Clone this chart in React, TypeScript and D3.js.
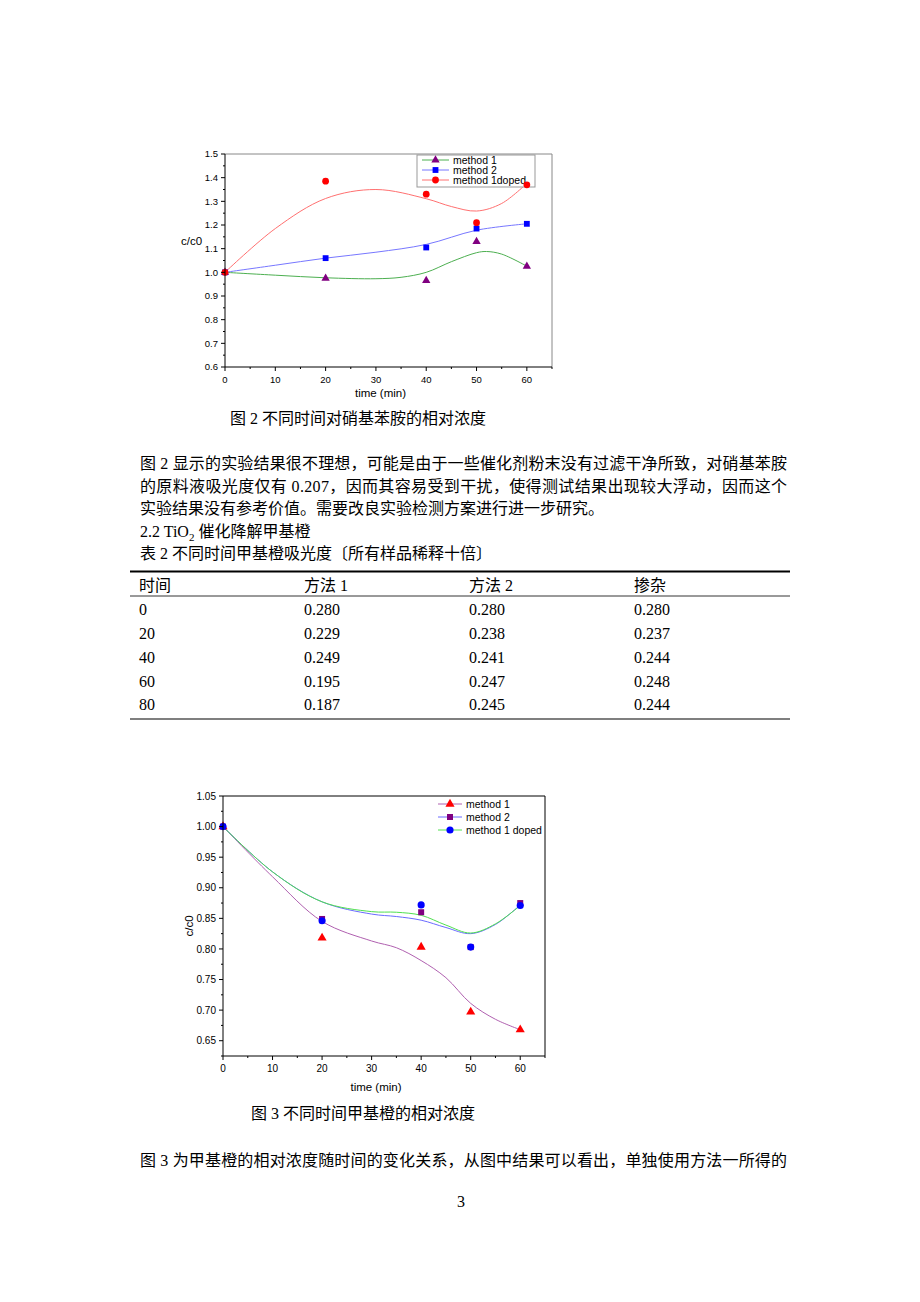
import React from "react";
import * as d3 from "d3";

// ---------- Chart 1 data (对硝基苯胺) ----------
const c1Times = [0, 20, 40, 50, 60];
const c1Method1 = [1.0, 0.975, 0.965, 1.13, 1.025];
const c1Method2 = [1.0, 1.06, 1.105, 1.185, 1.205];
const c1Doped = [1.0, 1.385, 1.33, 1.21, 1.37];
// fitted curves: [time, value]
const c1FitMethod1: [number, number][] = [[0, 1.0], [10, 0.988], [20, 0.977], [30, 0.973], [35, 0.979], [40, 1.0], [45, 1.045], [50, 1.083], [52, 1.088], [55, 1.077], [60, 1.026]];
const c1FitMethod2: [number, number][] = [[0, 1.0], [10, 1.03], [20, 1.06], [30, 1.085], [40, 1.118], [50, 1.178], [60, 1.205]];
const c1FitDoped: [number, number][] = [[0, 1.0], [10, 1.185], [20, 1.312], [30, 1.35], [40, 1.311], [45, 1.278], [50, 1.259], [55, 1.291], [60, 1.376]];
const c1YTicks = [0.6, 0.7, 0.8, 0.9, 1.0, 1.1, 1.2, 1.3, 1.4, 1.5];
const c1XTicks = [0, 10, 20, 30, 40, 50, 60];

// ---------- Chart 2 data (甲基橙) ----------
const c2Times = [0, 20, 40, 50, 60];
const c2Method1 = [1.0, 0.818, 0.803, 0.697, 0.668];
const c2Method2 = [1.0, 0.849, 0.86, 0.803, 0.875];
const c2Doped = [1.0, 0.846, 0.872, 0.803, 0.871];
const c2FitMethod1: [number, number][] = [[0, 1.0], [10, 0.918], [20, 0.845], [30, 0.813], [35, 0.802], [40, 0.781], [45, 0.753], [50, 0.711], [55, 0.685], [60, 0.668]];
const c2FitMethod2: [number, number][] = [[0, 1.0], [10, 0.926], [20, 0.877], [30, 0.857], [35, 0.853], [40, 0.847], [45, 0.835], [50, 0.825], [55, 0.84], [60, 0.872]];
const c2FitDoped: [number, number][] = [[0, 1.0], [10, 0.926], [20, 0.877], [30, 0.861], [35, 0.86], [40, 0.855], [45, 0.839], [50, 0.826], [55, 0.841], [60, 0.871]];
const c2YTicks = [0.65, 0.7, 0.75, 0.8, 0.85, 0.9, 0.95, 1.0, 1.05];
const c2XTicks = [0, 10, 20, 30, 40, 50, 60];

// ---------- Table 2 ----------
const tableHeader = ["时间", "方法 1", "方法 2", "掺杂"];
const tableTime = ["0", "20", "40", "60", "80"];
const tableMethod1 = ["0.280", "0.229", "0.249", "0.195", "0.187"];
const tableMethod2 = ["0.280", "0.238", "0.241", "0.247", "0.245"];
const tableDoped = ["0.280", "0.237", "0.244", "0.248", "0.244"];

const SERIF = "'Liberation Serif', 'Times New Roman', 'Noto Sans CJK SC', serif";
const SANS = "'Liberation Sans', Arial, sans-serif";

type Series = {
  name: string;
  values: number[];
  fit: [number, number][];
  lineColor: string;
  markColor: string;
  symbol: d3.SymbolType;
  size: number;
};

type ChartProps = {
  left: number; right: number; top: number; bottom: number;
  yDomain: [number, number];
  yTicks: number[];
  yMinorStep: number;
  xTicks: number[];
  times: number[];
  series: Series[];
  yFmt: (v: number) => string;
  frameColor: string;
  legendBox: boolean;
  legend: { x: number; y: number; dy: number; lineW: number };
  yTitle: "horizontal" | "vertical";
  yTitlePos: [number, number];
  xTitleY: number;
  tickFont: number;
};

function Chart(p: ChartProps) {
  const x = d3.scaleLinear().domain([0, 65]).range([p.left, p.right]);
  const y = d3.scaleLinear().domain(p.yDomain).range([p.bottom, p.top]);
  const line = d3.line<[number, number]>().x(d => x(d[0])).y(d => y(d[1])).curve(d3.curveCatmullRom.alpha(0.5));
  const xMinor = d3.range(0, 66, 5).filter(v => v % 10 !== 0);
  const yMinor: number[] = [];
  for (let v = p.yDomain[0]; v <= p.yDomain[1] + 1e-9; v += p.yMinorStep) {
    const r = Math.round(v * 1000) / 1000;
    if (!p.yTicks.some(t => Math.abs(t - r) < 1e-6)) yMinor.push(r);
  }
  const lg = p.legend;
  const legendW = 118;
  return (
    <g>
      {/* frame */}
      <line x1={p.left} x2={p.right} y1={p.top} y2={p.top} stroke={p.frameColor} strokeWidth={1} />
      <line x1={p.right} x2={p.right} y1={p.top} y2={p.bottom} stroke={p.frameColor} strokeWidth={1} />
      {/* curves */}
      {p.series.map(s => (
        <path key={"c" + s.name} d={line(s.fit) || ""} fill="none" stroke={s.lineColor} strokeWidth={1} />
      ))}
      {/* legend */}
      {p.legendBox && (
        <rect x={lg.x - 5} y={lg.y - 5} width={legendW} height={lg.dy * 3 + 2} fill="white" stroke="#999" strokeWidth={1} />
      )}
      {p.series.map((s, i) => (
        <g key={"l" + s.name}>
          <line x1={lg.x} x2={lg.x + lg.lineW} y1={lg.y + i * lg.dy} y2={lg.y + i * lg.dy} stroke={s.lineColor} strokeWidth={1} />
          <path d={d3.symbol(s.symbol, s.size)() || ""} transform={`translate(${lg.x + lg.lineW / 2},${lg.y + i * lg.dy})`} fill={s.markColor} />
          <text x={lg.x + lg.lineW + 4} y={lg.y + i * lg.dy + 3.8} fontFamily={SANS} fontSize={10.5} fill="#000">{s.name}</text>
        </g>
      ))}
      {/* markers */}
      {p.series.map(s => (
        <g key={"m" + s.name}>
          {s.values.map((v, i) => (
            <path key={i} d={d3.symbol(s.symbol, s.size)() || ""} transform={`translate(${x(p.times[i])},${y(v)})`} fill={s.markColor} />
          ))}
        </g>
      ))}
      {/* axes */}
      <line x1={p.left} x2={p.left} y1={p.top} y2={p.bottom} stroke="#000" strokeWidth={1} />
      <line x1={p.left} x2={p.right} y1={p.bottom} y2={p.bottom} stroke="#000" strokeWidth={1} />
      {p.yTicks.map(t => (
        <g key={"yt" + t}>
          <line x1={p.left - 4} x2={p.left} y1={y(t)} y2={y(t)} stroke="#000" />
          <text x={p.left - 7} y={y(t) + p.tickFont * 0.36} textAnchor="end" fontFamily={SANS} fontSize={p.tickFont}>{p.yFmt(t)}</text>
        </g>
      ))}
      {yMinor.map(t => (
        <line key={"ym" + t} x1={p.left - 2} x2={p.left} y1={y(t)} y2={y(t)} stroke="#000" />
      ))}
      {p.xTicks.map(t => (
        <g key={"xt" + t}>
          <line x1={x(t)} x2={x(t)} y1={p.bottom} y2={p.bottom + 4} stroke="#000" />
          <text x={x(t)} y={p.bottom + 16} textAnchor="middle" fontFamily={SANS} fontSize={p.tickFont}>{t}</text>
        </g>
      ))}
      {xMinor.map(t => (
        <line key={"xm" + t} x1={x(t)} x2={x(t)} y1={p.bottom} y2={p.bottom + 2} stroke="#000" />
      ))}
      <text x={(x(0) + x(65)) / 2 - 8} y={p.xTitleY} textAnchor="middle" fontFamily={SANS} fontSize={11.5}>time (min)</text>
      {p.yTitle === "horizontal" ? (
        <text x={p.yTitlePos[0]} y={p.yTitlePos[1]} fontFamily={SANS} fontSize={11.5}>c/c0</text>
      ) : (
        <text transform={`translate(${p.yTitlePos[0]},${p.yTitlePos[1]}) rotate(-90)`} textAnchor="middle" fontFamily={SANS} fontSize={11.5}>c/c0</text>
      )}
    </g>
  );
}

function App() {
  const chart1Series: Series[] = [
    { name: "method 1", values: c1Method1, fit: c1FitMethod1, lineColor: "#4caf50", markColor: "#800080", symbol: d3.symbolTriangle, size: 30 },
    { name: "method 2", values: c1Method2, fit: c1FitMethod2, lineColor: "#7777ff", markColor: "#0000ff", symbol: d3.symbolSquare, size: 34 },
    { name: "method 1doped", values: c1Doped, fit: c1FitDoped, lineColor: "#ff7070", markColor: "#ff0000", symbol: d3.symbolCircle, size: 36 },
  ];
  const chart2Series: Series[] = [
    { name: "method 1", values: c2Method1, fit: c2FitMethod1, lineColor: "#b060b0", markColor: "#ff0000", symbol: d3.symbolTriangle, size: 36 },
    { name: "method 2", values: c2Method2, fit: c2FitMethod2, lineColor: "#6a6aff", markColor: "#800080", symbol: d3.symbolSquare, size: 36 },
    { name: "method 1 doped", values: c2Doped, fit: c2FitDoped, lineColor: "#50e050", markColor: "#0000ff", symbol: d3.symbolCircle, size: 40 },
  ];

  const body = 16;
  const rowY = [615, 639, 662.5, 686.5, 710];
  const colX = [139, 304, 469, 634];
  const cols = [tableTime, tableMethod1, tableMethod2, tableDoped];

  return (
    <svg width={920} height={1302} style={{ position: "absolute", left: 0, top: 0, background: "#fff" }}>
      <rect width={920} height={1302} fill="#fff" />
      <Chart
        left={225} right={552} top={154} bottom={367}
        yDomain={[0.6, 1.5]} yTicks={c1YTicks} yMinorStep={0.05} xTicks={c1XTicks}
        times={c1Times} series={chart1Series} yFmt={d3.format(".1f")}
        frameColor="#888" legendBox={true}
        legend={{ x: 422, y: 160, dy: 10, lineW: 27 }}
        yTitle="horizontal" yTitlePos={[181, 245]} xTitleY={397} tickFont={9.5}
      />
      <Chart
        left={223} right={545} top={796} bottom={1056}
        yDomain={[0.625, 1.05]} yTicks={c2YTicks} yMinorStep={0.025} xTicks={c2XTicks}
        times={c2Times} series={chart2Series} yFmt={d3.format(".2f")}
        frameColor="#000" legendBox={false}
        legend={{ x: 438, y: 804, dy: 13, lineW: 24 }}
        yTitle="vertical" yTitlePos={[193, 926]} xTitleY={1091} tickFont={10}
      />

      <g fontFamily={SERIF} fontSize={body} fill="#000">
        <text x={230} y={424}>图 2  不同时间对硝基苯胺的相对浓度</text>
        <text x={140} y={469} textLength={647} lengthAdjust="spacing">图 2 显示的实验结果很不理想，可能是由于一些催化剂粉末没有过滤干净所致，对硝基苯胺</text>
        <text x={140} y={491.5} textLength={647} lengthAdjust="spacing">的原料液吸光度仅有 0.207，因而其容易受到干扰，使得测试结果出现较大浮动，因而这个</text>
        <text x={140} y={514}>实验结果没有参考价值。需要改良实验检测方案进行进一步研究。</text>
        <text x={140} y={536.5}>2.2 TiO<tspan fontSize={11} dy={4}>2</tspan><tspan dy={-4}> 催化降解甲基橙</tspan></text>
        <text x={140} y={559}>表 2 不同时间甲基橙吸光度〔所有样品稀释十倍〕</text>

        <line x1={130} x2={790} y1={571.5} y2={571.5} stroke="#000" strokeWidth={2} />
        {tableHeader.map((h, i) => (
          <text key={"h" + i} x={colX[i]} y={591}>{h}</text>
        ))}
        <line x1={130} x2={790} y1={596} y2={596} stroke="#000" strokeWidth={0.8} />
        {cols.map((col, ci) => col.map((v, ri) => (
          <text key={ci + "-" + ri} x={colX[ci]} y={rowY[ri]}>{v}</text>
        )))}
        <line x1={130} x2={790} y1={719} y2={719} stroke="#000" strokeWidth={1.2} />

        <text x={251} y={1119}>图 3 不同时间甲基橙的相对浓度</text>
        <text x={140} y={1166} textLength={647} lengthAdjust="spacing">图 3 为甲基橙的相对浓度随时间的变化关系，从图中结果可以看出，单独使用方法一所得的</text>
        <text x={461} y={1207} textAnchor="middle">3</text>
      </g>
    </svg>
  );
}

export default App;
